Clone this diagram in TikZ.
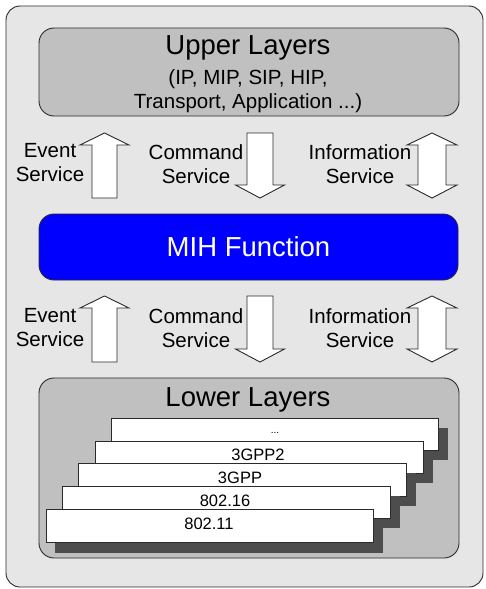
\documentclass[tikz,border=0pt]{standalone}
\usepackage{fontspec}
\setmainfont{Liberation Sans}
\definecolor{outerbg}{HTML}{E6E6E6}
\definecolor{layerbg}{HTML}{C0C0C0}
\definecolor{shadowc}{HTML}{4D4D4D}
\definecolor{edgec}{HTML}{2A2A2A}
\definecolor{mihblue}{HTML}{0000FF}
\newcommand\myUpArr[3]{\draw[blockarrow] (#1-12.5,#3) -- (#1-12.5,#2+12) -- (#1-24.5,#2+12) -- (#1,#2) -- (#1+24.5,#2+12) -- (#1+12.5,#2+12) -- (#1+12.5,#3) -- cycle;}
\newcommand\myDownArr[3]{\draw[blockarrow] (#1-13,#2) -- (#1-13,#3-13) -- (#1-24.5,#3-13) -- (#1,#3) -- (#1+24.5,#3-13) -- (#1+13,#3-13) -- (#1+13,#2) -- cycle;}
\newcommand\myDblArr[3]{\draw[blockarrow] (#1,#2) -- (#1+25,#2+12) -- (#1+14,#2+12) -- (#1+14,#3-13) -- (#1+25,#3-13) -- (#1,#3) -- (#1-25,#3-13) -- (#1-14,#3-13) -- (#1-14,#2+12) -- (#1-25,#2+12) -- cycle;}
\begin{document}
\begin{tikzpicture}[x=1pt,y=-1pt,
  blockarrow/.style={draw=edgec,fill=white,line width=0.9pt,line join=miter},
  layerbox/.style={draw=edgec,fill=layerbg,line width=0.9pt,rounded corners=15pt},
  card/.style={draw=edgec,fill=white,line width=0.8pt},
  cardshadow/.style={fill=shadowc},
  title/.style={font=\fontsize{27.5}{30}\selectfont},
  svc/.style={font=\fontsize{20.5}{24}\selectfont,align=center,inner sep=0pt},
  cardlbl/.style={font=\fontsize{16.5}{18}\selectfont,inner sep=0pt}]
\useasboundingbox (0,0) rectangle (485,589);
\begin{scope}
\clip (0,0) rectangle (485,589);
\draw[draw=edgec,fill=outerbg,line width=0.9pt,rounded corners=14pt] (6,6) rectangle (483,587);
\end{scope}
% Upper layers
\draw[layerbox] (39,28) rectangle (459,116);
\node[title,inner sep=0pt] (ultitle) at (248,48) {Upper Layers};
\node[svc] (ulsub) at (248,91) {(IP, MIP, SIP, HIP,\\Transport, Application ...)};
% MIH function
\node[draw=edgec,fill=mihblue,line width=0.9pt,rounded corners=15pt,minimum width=419pt,minimum height=66pt,text=white,title] (mih) at (248.5,247) {MIH Function};
% Upper arrows
\myUpArr{104.5}{133}{198}
\myDownArr{260}{133}{198}
\myDblArr{432}{133}{198}
\node[svc] (ev1) at (50,163) {Event\\Service};
\node[svc] (cm1) at (196,164.5) {Command\\Service};
\node[svc] (in1) at (360,164.5) {Information\\Service};
% Lower arrows
\myUpArr{104.5}{296}{362}
\myDownArr{260}{296}{362}
\myDblArr{432}{296}{362}
\node[svc] (ev2) at (50,327.5) {Event\\Service};
\node[svc] (cm2) at (196,328.5) {Command\\Service};
\node[svc] (in2) at (360,328.5) {Information\\Service};
% Lower layers
\draw[layerbox] (39,378) rectangle (459,558);
\node[title,inner sep=0pt] (lltitle) at (248,400) {Lower Layers};
% cards back to front
\fill[cardshadow] (121,428) rectangle (448,460);
\draw[card] (111,418) rectangle (438,450);
\node[cardlbl,font=\fontsize{10}{12}\selectfont] (c5) at (275,433) {...};
\fill[cardshadow] (105,451) rectangle (433,483);
\draw[card] (95,441) rectangle (423,473);
\node[cardlbl] (c4) at (258,455) {3GPP2};
\fill[cardshadow] (88,473) rectangle (416,506);
\draw[card] (78,463) rectangle (406,496);
\node[cardlbl] (c3) at (240,478) {3GPP};
\fill[cardshadow] (72,496) rectangle (400,528);
\draw[card] (62,486) rectangle (390,518);
\node[cardlbl] (c2) at (225,501) {802.16};
\fill[cardshadow] (55,519) rectangle (383,553);
\draw[card] (46,509) rectangle (373,542);
\node[cardlbl] (c1) at (209,524) {802.11};
\end{tikzpicture}
\end{document}
